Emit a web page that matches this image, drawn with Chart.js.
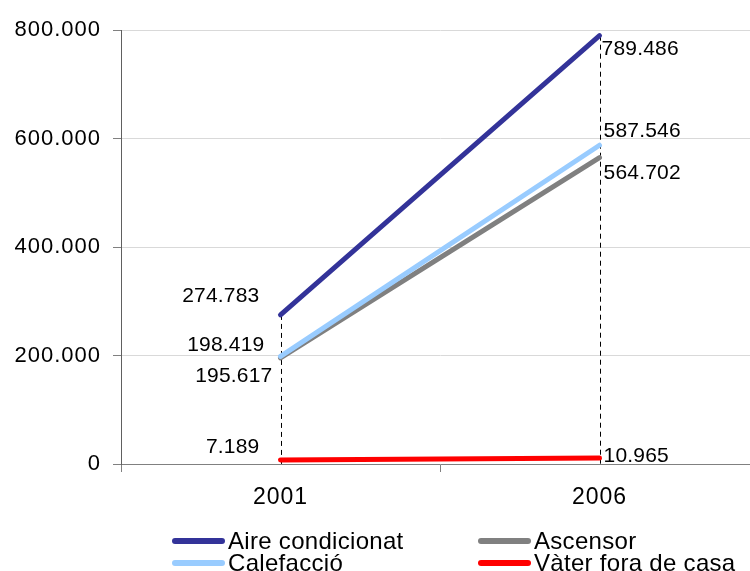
<!DOCTYPE html>
<html>
<head>
<meta charset="utf-8">
<script src="https://cdn.jsdelivr.net/npm/chart.js@4/dist/chart.umd.min.js"></script>
<style>
  html, body { margin: 0; padding: 0; background: #fff; overflow: hidden; }
  #wrap { position: relative; width: 750px; height: 571px; overflow: hidden; }
  #grafica { position: absolute; left: 0; top: 0; }
  .lg-item { position: absolute; height: 22px; font: 24px "Liberation Sans", Arial, sans-serif; letter-spacing: 0.3px; color: #000; white-space: nowrap; }
  .lg-line { position: absolute; left: 0; top: 8px; width: 53px; height: 6px; border-radius: 3px; }
  .lg-text { position: absolute; left: 56px; top: -3px; line-height: 27px; }
</style>
</head>
<body>
<div id="wrap">
  <canvas id="grafica" width="760" height="571"></canvas>
  <div id="leyenda"></div>
</div>
<script>
// datos
var anios = ["2001", "2006"];
var series = ["Aire condicionat", "Ascensor", "Calefacció", "Vàter fora de casa"];
var aireCondicionat = [274783, 789486];
var ascensor = [195617, 564702];
var calefaccio = [198419, 587546];
var vaterFora = [7189, 10965];
var ticksY = [0, 200000, 400000, 600000, 800000];

var colores = ["#333399", "#808080", "#99CCFF", "#FF0000"];
// desplazamiento de las etiquetas respecto al punto [2001, 2006]
var etiquetaDx = [[-21, 2], [-8, 4], [-16, 4], [-21, 4]];
var etiquetaDy = [[-19, 13], [18, 16], [-11, -14], [-13, -2]];

function formatoNum(v) {
  return String(v).replace(/\B(?=(\d{3})+(?!\d))/g, '.');
}

var valores = [aireCondicionat, ascensor, calefaccio, vaterFora];
var fuente = '"Liberation Sans", Arial, sans-serif';

// espaciado de letras para los ejes
var espaciado = {
  id: 'espaciado',
  beforeDraw: function(chart) { chart.ctx.letterSpacing = '1px'; }
};

// lineas verticales punteadas
var lineasGuia = {
  id: 'lineasGuia',
  beforeDatasetsDraw: function(chart) {
    var ctx = chart.ctx, y = chart.scales.y, x = chart.scales.x;
    ctx.save();
    ctx.strokeStyle = '#000';
    ctx.lineWidth = 1;
    ctx.setLineDash([5, 4]);
    for (var i = 0; i < anios.length; i++) {
      var max = 0;
      valores.forEach(function(s) { if (s[i] > max) max = s[i]; });
      var px = Math.round(x.getPixelForValue(i)) + 0.5;
      ctx.beginPath();
      ctx.moveTo(px, y.getPixelForValue(max));
      ctx.lineTo(px, chart.chartArea.bottom);
      ctx.stroke();
    }
    ctx.restore();
  }
};

// etiquetas de valores
var etiquetas = {
  id: 'etiquetas',
  afterDatasetsDraw: function(chart) {
    var ctx = chart.ctx;
    ctx.save();
    ctx.letterSpacing = '0.2px';
    ctx.font = '21px ' + fuente;
    ctx.fillStyle = '#000';
    ctx.textBaseline = 'middle';
    chart.data.datasets.forEach(function(ds, d) {
      var meta = chart.getDatasetMeta(d);
      meta.data.forEach(function(pt, i) {
        ctx.textAlign = i == 0 ? 'right' : 'left';
        ctx.fillText(formatoNum(ds.data[i]), pt.x + etiquetaDx[d][i], pt.y + etiquetaDy[d][i]);
      });
    });
    ctx.restore();
  }
};

var datasets = [];
for (var k = 0; k < series.length; k++) {
  datasets.push({
    label: series[k],
    data: valores[k],
    borderColor: colores[k],
    backgroundColor: colores[k],
    borderWidth: 5,
    borderCapStyle: 'round',
    pointRadius: 0,
    tension: 0,
    order: series.length - k
  });
}

var grafica = new Chart(document.getElementById('grafica'), {
  type: 'line',
  data: { labels: anios, datasets: datasets },
  plugins: [espaciado, lineasGuia, etiquetas],
  options: {
    responsive: false,
    animation: false,
    layout: { padding: { top: 30, left: 0, right: 1, bottom: 59 } },
    plugins: { legend: { display: false }, tooltip: { enabled: false } },
    scales: {
      x: {
        offset: true,
        grid: { offset: true, drawOnChartArea: false, tickLength: 8, tickColor: '#808080' },
        border: { color: '#808080', width: 1 },
        ticks: { color: '#000', font: { family: fuente, size: 23 }, padding: 12 },
        afterFit: function(s) { s.height = 48; }
      },
      y: {
        min: 0,
        max: 800000,
        afterBuildTicks: function(s) { s.ticks = ticksY.map(function(v) { return { value: v }; }); },
        grid: { color: '#d9d9d9', tickLength: 8, tickColor: '#808080' },
        border: { color: '#606060', width: 1 },
        ticks: { color: '#000', font: { family: fuente, size: 22 }, padding: 12, callback: function(v) { return formatoNum(v); } },
        afterFit: function(s) { s.width = 121; }
      }
    }
  }
});

// leyenda en dos columnas
var leyenda = document.getElementById('leyenda');
series.forEach(function(nombre, k) {
  var col = k % 2;
  var fila = Math.floor(k / 2);
  var item = document.createElement('div');
  item.className = 'lg-item';
  item.style.left = (172 + col * 306) + 'px';
  item.style.top = (530 + fila * 22) + 'px';
  item.innerHTML = '<div class="lg-line" style="background:' + colores[k] + '"></div><div class="lg-text"></div>';
  item.querySelector('.lg-text').textContent = nombre;
  leyenda.appendChild(item);
});
</script>
</body>
</html>
